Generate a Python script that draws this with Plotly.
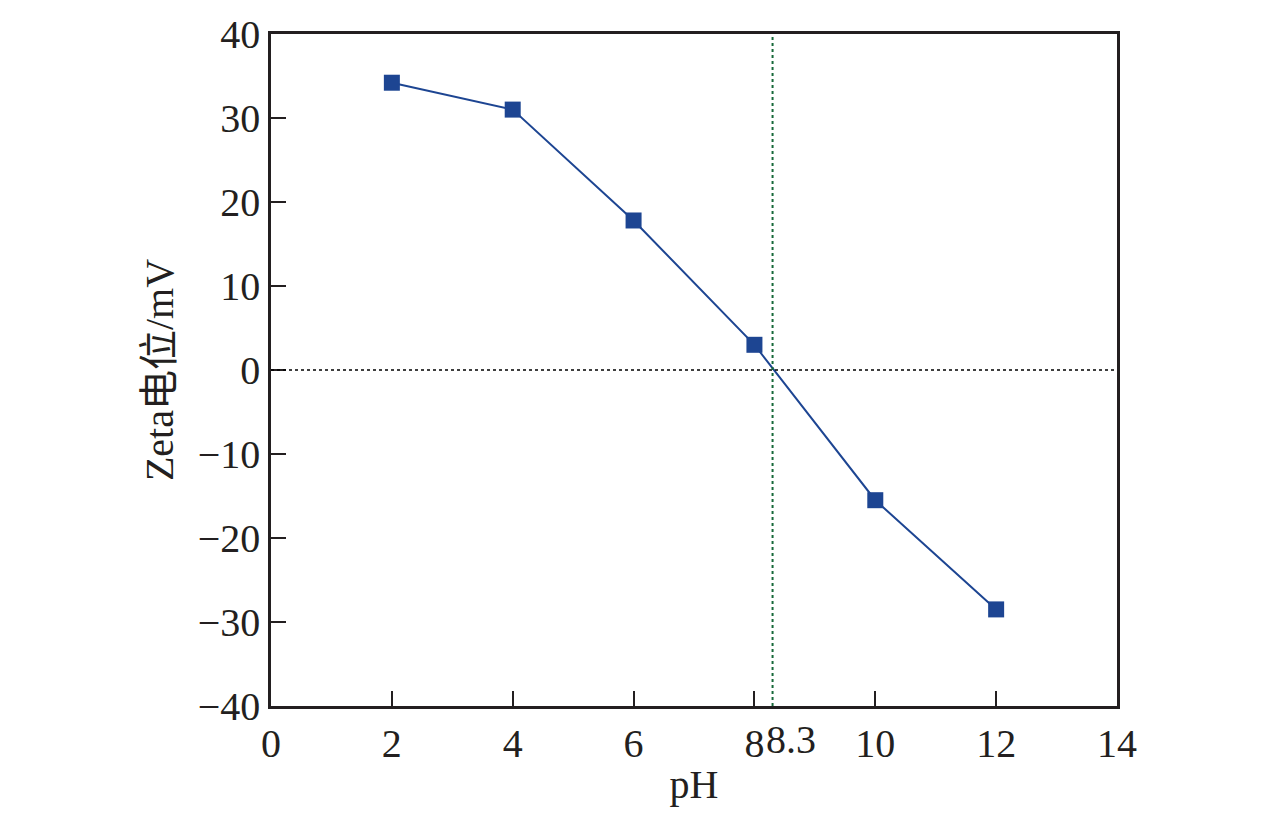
import plotly.graph_objects as go

ph = [2, 4, 6, 8, 10, 12]
zeta = [34.2, 31.0, 17.8, 3.0, -15.5, -28.5]

x_ticks = [0, 2, 4, 6, 8, 10, 12, 14]
y_ticks = [-40, -30, -20, -10, 0, 10, 20, 30, 40]
iep = 8.3
iep_label = "8.3"

font = "Liberation Serif, Times New Roman, Noto Sans CJK SC, serif"
ink = "#231f20"
blue = "#1d4592"

fig = go.Figure()
fig.add_trace(go.Scatter(
    x=ph, y=zeta, mode="lines+markers",
    line=dict(color=blue, width=2),
    marker=dict(symbol="square", size=16, color=blue),
    showlegend=False,
))

# zero line and isoelectric point
fig.add_shape(type="line", xref="x", yref="y", x0=0, x1=14, y0=0, y1=0,
              line=dict(color="black", width=1.5, dash="dot"))
fig.add_shape(type="line", xref="x", yref="paper", x0=iep, x1=iep, y0=0, y1=1,
              line=dict(color="#17693a", width=2, dash="dot"))
fig.add_annotation(x=iep, y=0, xref="x", yref="paper", text=iep_label,
                   showarrow=False, xanchor="left", yanchor="top",
                   xshift=-9, yshift=-9, font=dict(family=font, size=40, color=ink))

fig.update_xaxes(range=[0, 14], tickvals=x_ticks, ticks="inside", ticklen=15,
                 tickwidth=2, tickcolor=ink, showline=True, linecolor=ink,
                 linewidth=2.5, mirror=True, showgrid=False, zeroline=False,
                 automargin=False,
                 title=dict(text="pH", font=dict(family=font, size=40, color=ink), standoff=6),
                 tickfont=dict(family=font, size=40, color=ink))
fig.update_yaxes(range=[-40, 40], tickvals=y_ticks, ticks="inside", ticklen=15,
                 tickwidth=2, tickcolor=ink, showline=True, linecolor=ink,
                 linewidth=2.5, mirror=True, showgrid=False, zeroline=False,
                 automargin=False,
                 title=dict(text="Zeta电位/mV", font=dict(family=font, size=40, color=ink), standoff=12),
                 tickfont=dict(family=font, size=40, color=ink))

fig.update_layout(width=1276, height=817, margin=dict(l=263, r=167, t=26, b=119),
                  plot_bgcolor="white", paper_bgcolor="white")

fig.write_html("out.html")
